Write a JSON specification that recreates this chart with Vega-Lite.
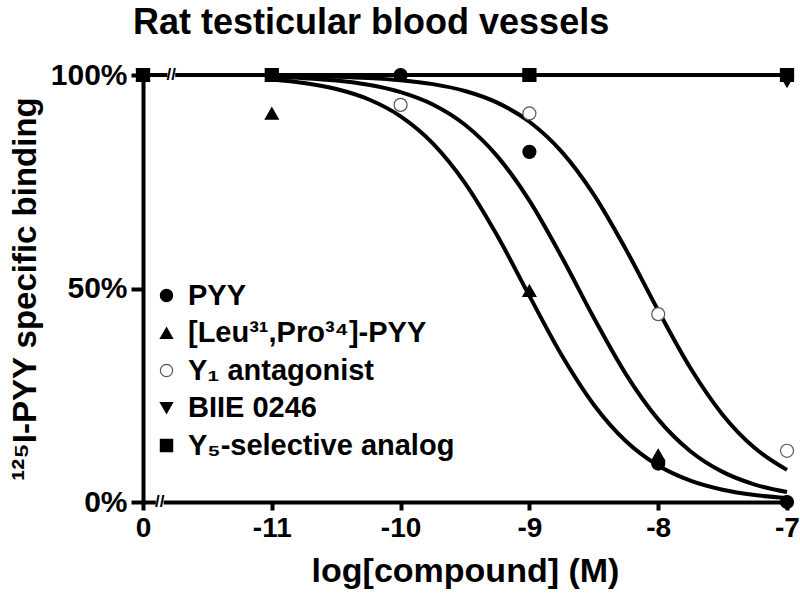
{
  "$schema": "https://vega.github.io/schema/vega-lite/v6.json",
  "width": 644,
  "height": 427,
  "autosize": {"type": "none"},
  "padding": {"left": 143, "top": 75, "right": 13, "bottom": 97},
  "background": "white",
  "title": {"text": "Rat testicular blood vessels", "fontSize": 36, "font": "Liberation Sans", "fontWeight": "bold", "color": "black", "anchor": "start", "frame": "group", "dx": -10, "offset": 18},
  "config": {
    "view": {"stroke": null},
    "font": "Liberation Sans",
    "axis": {"domainColor": "black", "domainWidth": 4, "tickColor": "black", "tickWidth": 4, "labelFont": "Liberation Sans", "labelFontSize": 30, "labelFontWeight": "bold", "labelColor": "black", "titleFont": "Liberation Sans", "titleFontSize": 33, "titleFontWeight": "bold", "titleColor": "black", "grid": false},
    "legend": {"orient": "none", "legendX": 9, "legendY": 206, "title": null, "labelFont": "Liberation Sans", "labelFontSize": 29, "labelFontWeight": "bold", "labelColor": "black", "symbolSize": 150, "labelOffset": 7, "rowPadding": 7.5, "padding": 0, "symbolStrokeWidth": 1.2, "labelLimit": 400}
  },
  "datasets": {
    "curves": [
      {"curve": "flat", "logc": -12, "pct": 100},
      {"curve": "flat", "logc": -7, "pct": 100},
      {"curve": "left", "logc": -11, "pct": 98.94},
      {"curve": "left", "logc": -10.75, "pct": 98.13},
      {"curve": "left", "logc": -10.5, "pct": 96.72},
      {"curve": "left", "logc": -10.25, "pct": 94.32},
      {"curve": "left", "logc": -10, "pct": 90.32},
      {"curve": "left", "logc": -9.75, "pct": 83.99},
      {"curve": "left", "logc": -9.5, "pct": 74.69},
      {"curve": "left", "logc": -9.25, "pct": 62.4},
      {"curve": "left", "logc": -9, "pct": 48.27},
      {"curve": "left", "logc": -8.75, "pct": 34.42},
      {"curve": "left", "logc": -8.5, "pct": 22.79},
      {"curve": "left", "logc": -8.25, "pct": 14.23},
      {"curve": "left", "logc": -8, "pct": 8.54},
      {"curve": "left", "logc": -7.75, "pct": 4.99},
      {"curve": "left", "logc": -7.5, "pct": 2.87},
      {"curve": "left", "logc": -7.25, "pct": 1.63},
      {"curve": "left", "logc": -7, "pct": 0.92},
      {"curve": "middle", "logc": -11, "pct": 99.58},
      {"curve": "middle", "logc": -10.75, "pct": 99.26},
      {"curve": "middle", "logc": -10.5, "pct": 98.7},
      {"curve": "middle", "logc": -10.25, "pct": 97.71},
      {"curve": "middle", "logc": -10, "pct": 96.0},
      {"curve": "middle", "logc": -9.75, "pct": 93.1},
      {"curve": "middle", "logc": -9.5, "pct": 88.35},
      {"curve": "middle", "logc": -9.25, "pct": 81.01},
      {"curve": "middle", "logc": -9, "pct": 70.58},
      {"curve": "middle", "logc": -8.75, "pct": 57.43},
      {"curve": "middle", "logc": -8.5, "pct": 43.14},
      {"curve": "middle", "logc": -8.25, "pct": 29.9},
      {"curve": "middle", "logc": -8, "pct": 19.35},
      {"curve": "middle", "logc": -7.75, "pct": 11.89},
      {"curve": "middle", "logc": -7.5, "pct": 7.05},
      {"curve": "middle", "logc": -7.25, "pct": 4.09},
      {"curve": "middle", "logc": -7, "pct": 2.34},
      {"curve": "right", "logc": -11, "pct": 99.88},
      {"curve": "right", "logc": -10.75, "pct": 99.78},
      {"curve": "right", "logc": -10.5, "pct": 99.61},
      {"curve": "right", "logc": -10.25, "pct": 99.31},
      {"curve": "right", "logc": -10, "pct": 98.78},
      {"curve": "right", "logc": -9.75, "pct": 97.86},
      {"curve": "right", "logc": -9.5, "pct": 96.26},
      {"curve": "right", "logc": -9.25, "pct": 93.53},
      {"curve": "right", "logc": -9, "pct": 89.05},
      {"curve": "right", "logc": -8.75, "pct": 82.05},
      {"curve": "right", "logc": -8.5, "pct": 71.99},
      {"curve": "right", "logc": -8.25, "pct": 59.11},
      {"curve": "right", "logc": -8, "pct": 44.84},
      {"curve": "right", "logc": -7.75, "pct": 31.37},
      {"curve": "right", "logc": -7.5, "pct": 20.45},
      {"curve": "right", "logc": -7.25, "pct": 12.63},
      {"curve": "right", "logc": -7, "pct": 7.52}
    ],
    "breaks": [
      {"logc": -11.78, "pct": 100},
      {"logc": -11.87, "pct": 0}
    ],
    "points": [
      {"compound": "Y₁ antagonist", "logc": -12, "pct": 100},
      {"compound": "Y₁ antagonist", "logc": -11, "pct": 100},
      {"compound": "Y₁ antagonist", "logc": -10, "pct": 93},
      {"compound": "Y₁ antagonist", "logc": -9, "pct": 91},
      {"compound": "Y₁ antagonist", "logc": -8, "pct": 44},
      {"compound": "Y₁ antagonist", "logc": -7, "pct": 12},
      {"compound": "[Leu³¹,Pro³⁴]-PYY", "logc": -12, "pct": 100},
      {"compound": "[Leu³¹,Pro³⁴]-PYY", "logc": -11, "pct": 91},
      {"compound": "[Leu³¹,Pro³⁴]-PYY", "logc": -9, "pct": 49.5},
      {"compound": "[Leu³¹,Pro³⁴]-PYY", "logc": -8, "pct": 11},
      {"compound": "BIIE 0246", "logc": -12, "pct": 100},
      {"compound": "BIIE 0246", "logc": -7, "pct": 98.5},
      {"compound": "PYY", "logc": -12, "pct": 100},
      {"compound": "PYY", "logc": -10, "pct": 100},
      {"compound": "PYY", "logc": -9, "pct": 82},
      {"compound": "PYY", "logc": -8, "pct": 9},
      {"compound": "PYY", "logc": -7, "pct": 0},
      {"compound": "Y₅-selective analog", "logc": -12, "pct": 100},
      {"compound": "Y₅-selective analog", "logc": -11, "pct": 100},
      {"compound": "Y₅-selective analog", "logc": -9, "pct": 100},
      {"compound": "Y₅-selective analog", "logc": -7, "pct": 100}
    ]
  },
  "layer": [
    {
      "data": {"name": "curves"},
      "mark": {"type": "line", "color": "black", "strokeWidth": 4, "interpolate": "monotone"},
      "encoding": {
        "x": {"field": "logc", "type": "quantitative", "scale": {"domain": [-12, -7], "nice": false, "zero": false},
          "axis": {"values": [-12, -11, -10, -9, -8, -7], "labelExpr": "datum.value == -12 ? '0' : '' + datum.value", "title": "log[compound] (M)", "tickSize": 8, "labelPadding": 4, "titlePadding": 12, "labelFlush": false, "labelFontSize": 28, "titleFontSize": 34}},
        "y": {"field": "pct", "type": "quantitative", "scale": {"domain": [0, 100], "nice": false},
          "axis": {"values": [0, 50, 100], "labelExpr": "datum.value + '%'", "title": "¹²⁵I-PYY specific binding", "tickSize": 12, "labelPadding": 4, "titlePadding": 8}},
        "detail": {"field": "curve"}
      }
    },
    {
      "data": {"name": "breaks"},
      "mark": {"type": "point", "shape": "square", "filled": true, "color": "white", "size": 60, "opacity": 1},
      "encoding": {
        "x": {"field": "logc", "type": "quantitative"},
        "y": {"field": "pct", "type": "quantitative"}
      }
    },
    {
      "data": {"name": "breaks"},
      "mark": {"type": "text", "text": "//", "fontSize": 17, "fontWeight": "bold", "font": "Liberation Sans", "color": "black", "align": "center", "baseline": "middle"},
      "encoding": {
        "x": {"field": "logc", "type": "quantitative"},
        "y": {"field": "pct", "type": "quantitative"}
      }
    },
    {
      "data": {"name": "points"},
      "mark": {"type": "point", "size": 170, "strokeWidth": 1.2, "opacity": 1},
      "encoding": {
        "x": {"field": "logc", "type": "quantitative"},
        "y": {"field": "pct", "type": "quantitative"},
        "shape": {"field": "compound", "type": "nominal",
          "scale": {"domain": ["PYY", "[Leu³¹,Pro³⁴]-PYY", "Y₁ antagonist", "BIIE 0246", "Y₅-selective analog"], "range": ["circle", "triangle-up", "circle", "triangle-down", "square"]}},
        "fill": {"field": "compound", "type": "nominal",
          "scale": {"domain": ["PYY", "[Leu³¹,Pro³⁴]-PYY", "Y₁ antagonist", "BIIE 0246", "Y₅-selective analog"], "range": ["black", "black", "white", "black", "black"]}},
        "stroke": {"field": "compound", "type": "nominal",
          "scale": {"domain": ["PYY", "[Leu³¹,Pro³⁴]-PYY", "Y₁ antagonist", "BIIE 0246", "Y₅-selective analog"], "range": ["black", "black", "#555555", "black", "black"]}}
      }
    }
  ]
}
